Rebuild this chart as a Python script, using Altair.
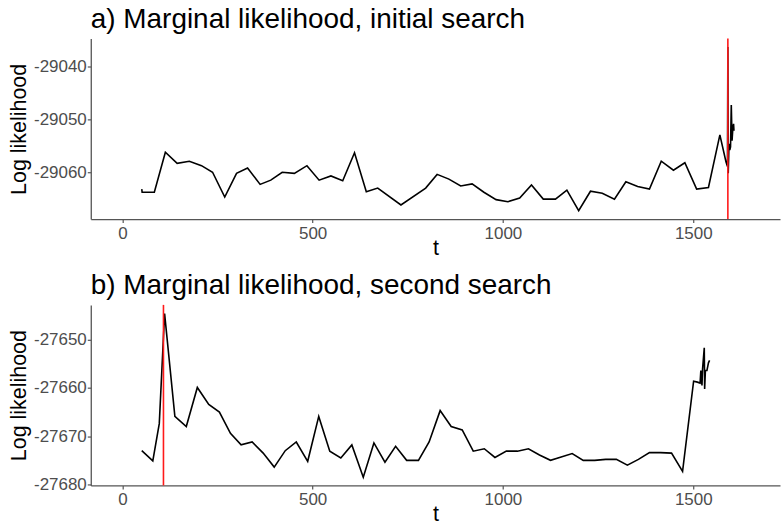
import altair as alt
import pandas as pd

# Panel a: marginal likelihood along the initial search
t_a = [51, 52, 84, 113, 144, 176, 208, 237, 269, 300, 329, 362, 390, 420, 452,
       485, 517, 548, 579, 610, 641, 671, 732, 797, 827, 858, 889, 919, 950,
       982, 1013, 1044, 1075, 1106, 1138, 1168, 1199, 1230, 1261, 1293, 1323,
       1354, 1385, 1416, 1448, 1478, 1509, 1540, 1570, 1586, 1590, 1591, 1592,
       1594, 1596, 1598, 1600, 1602, 1604, 1606, 1607]
ll_a = [-29063.2, -29063.8, -29063.8, -29056.2, -29058.3, -29057.9, -29058.75,
        -29060.0, -29064.7, -29060.2, -29059.2, -29062.3, -29061.5, -29060.0,
        -29060.2, -29058.75, -29061.5, -29060.7, -29061.6, -29056.3, -29063.7,
        -29063.0, -29066.2, -29063.0, -29060.4, -29061.3, -29062.6, -29062.2,
        -29063.8, -29065.2, -29065.6, -29064.9, -29062.4, -29065.1, -29065.1,
        -29063.4, -29067.3, -29063.6, -29064.0, -29065.1, -29061.8, -29062.7,
        -29063.2, -29057.9, -29059.6, -29058.2, -29063.2, -29062.9, -29052.9,
        -29058.0, -29058.9, -29036.2, -29060.2, -29054.6, -29055.8, -29055.2,
        -29047.2, -29054.0, -29051.7, -29050.8, -29052.1]
best_a = 1591

# Panel b: marginal likelihood along the second search
t_b = [51, 80, 97, 111, 138, 168, 197, 227, 255, 284, 312, 341, 370, 399, 428,
       457, 487, 516, 545, 574, 603, 633, 661, 690, 718, 747, 778, 806, 835,
       864, 893, 922, 951, 979, 1009, 1038, 1067, 1096, 1125, 1153, 1182, 1211,
       1241, 1270, 1298, 1327, 1356, 1385, 1414, 1443, 1472, 1501, 1511, 1518,
       1520, 1523, 1524.5, 1529, 1530, 1532, 1536, 1540, 1543]
ll_b = [-27673.0, -27675.1, -27667.4, -27644.6, -27665.9, -27668.0, -27659.9,
        -27663.4, -27665.0, -27669.4, -27671.8, -27671.2, -27673.5, -27676.4,
        -27673.0, -27671.2, -27675.2, -27665.9, -27673.1, -27674.5, -27671.8,
        -27678.5, -27671.4, -27675.4, -27672.1, -27675.0, -27675.0, -27671.2,
        -27664.7, -27668.0, -27668.7, -27673.1, -27672.6, -27674.4, -27673.1,
        -27673.1, -27672.6, -27673.9, -27675.0, -27674.3, -27673.6, -27675.0,
        -27675.0, -27674.8, -27674.8, -27676.0, -27674.8, -27673.4, -27673.4,
        -27673.5, -27677.3, -27658.6, -27658.8, -27659.0, -27656.4, -27659.5,
        -27656.1, -27651.7, -27660.2, -27656.4, -27656.4, -27654.8, -27654.3]
best_b = 108

x_ticks = [0, 500, 1000, 1500]
y_ticks_a = [-29060, -29050, -29040]
y_ticks_b = [-27680, -27670, -27660, -27650]

X_DOMAIN = [-83, 1728]
FONT = "Liberation Sans"


def panel(t, ll, best, title, y_domain, y_ticks):
    df = pd.DataFrame({"t": t, "ll": ll})
    x = alt.X(
        "t:Q",
        scale=alt.Scale(domain=X_DOMAIN, nice=False, zero=False),
        axis=alt.Axis(values=x_ticks, title="t", labelExpr="'' + datum.value"),
    )
    line = alt.Chart(df).mark_line(color="black", strokeWidth=1.6).encode(
        x=x,
        y=alt.Y(
            "ll:Q",
            scale=alt.Scale(domain=y_domain, nice=False, zero=False),
            axis=alt.Axis(values=y_ticks, title="Log likelihood",
                          labelExpr="'' + datum.value"),
        ),
    )
    rule = alt.Chart(pd.DataFrame({"t": [best]})).mark_rule(
        color="#ff1a1a", strokeWidth=1.6
    ).encode(x=alt.X("t:Q"))
    return alt.layer(line, rule).properties(
        width=691,
        height=181,
        title=alt.Title(title, anchor="start", frame="group", fontSize=28,
                        font=FONT, fontWeight="normal", color="black", offset=4),
    )


top = panel(t_a, ll_a, best_a, "a) Marginal likelihood, initial search",
            [-29068.9, -29034.6], y_ticks_a)
bottom = panel(t_b, ll_b, best_b, "b) Marginal likelihood, second search",
               [-27680.2, -27642.8], y_ticks_b)

chart = alt.vconcat(top, bottom, spacing=11).properties(
    padding={"left": 8, "top": 4, "right": 0, "bottom": 0}
).configure_view(stroke="transparent").configure_axis(
    grid=False,
    domainColor="#555555",
    domainWidth=1.3,
    tickColor="#555555",
    tickWidth=1.2,
    tickSize=3.5,
    labelFont=FONT,
    labelFontSize=17,
    labelColor="#4d4d4d",
    labelPadding=1,
    titleFont=FONT,
    titleFontSize=21.5,
    titleFontWeight="normal",
    titleColor="black",
    titlePadding=3,
).configure_axisX(
    labelPadding=3,
    titlePadding=-4,
)

chart.save("out.html", embed_options={"renderer": "svg", "actions": False})
